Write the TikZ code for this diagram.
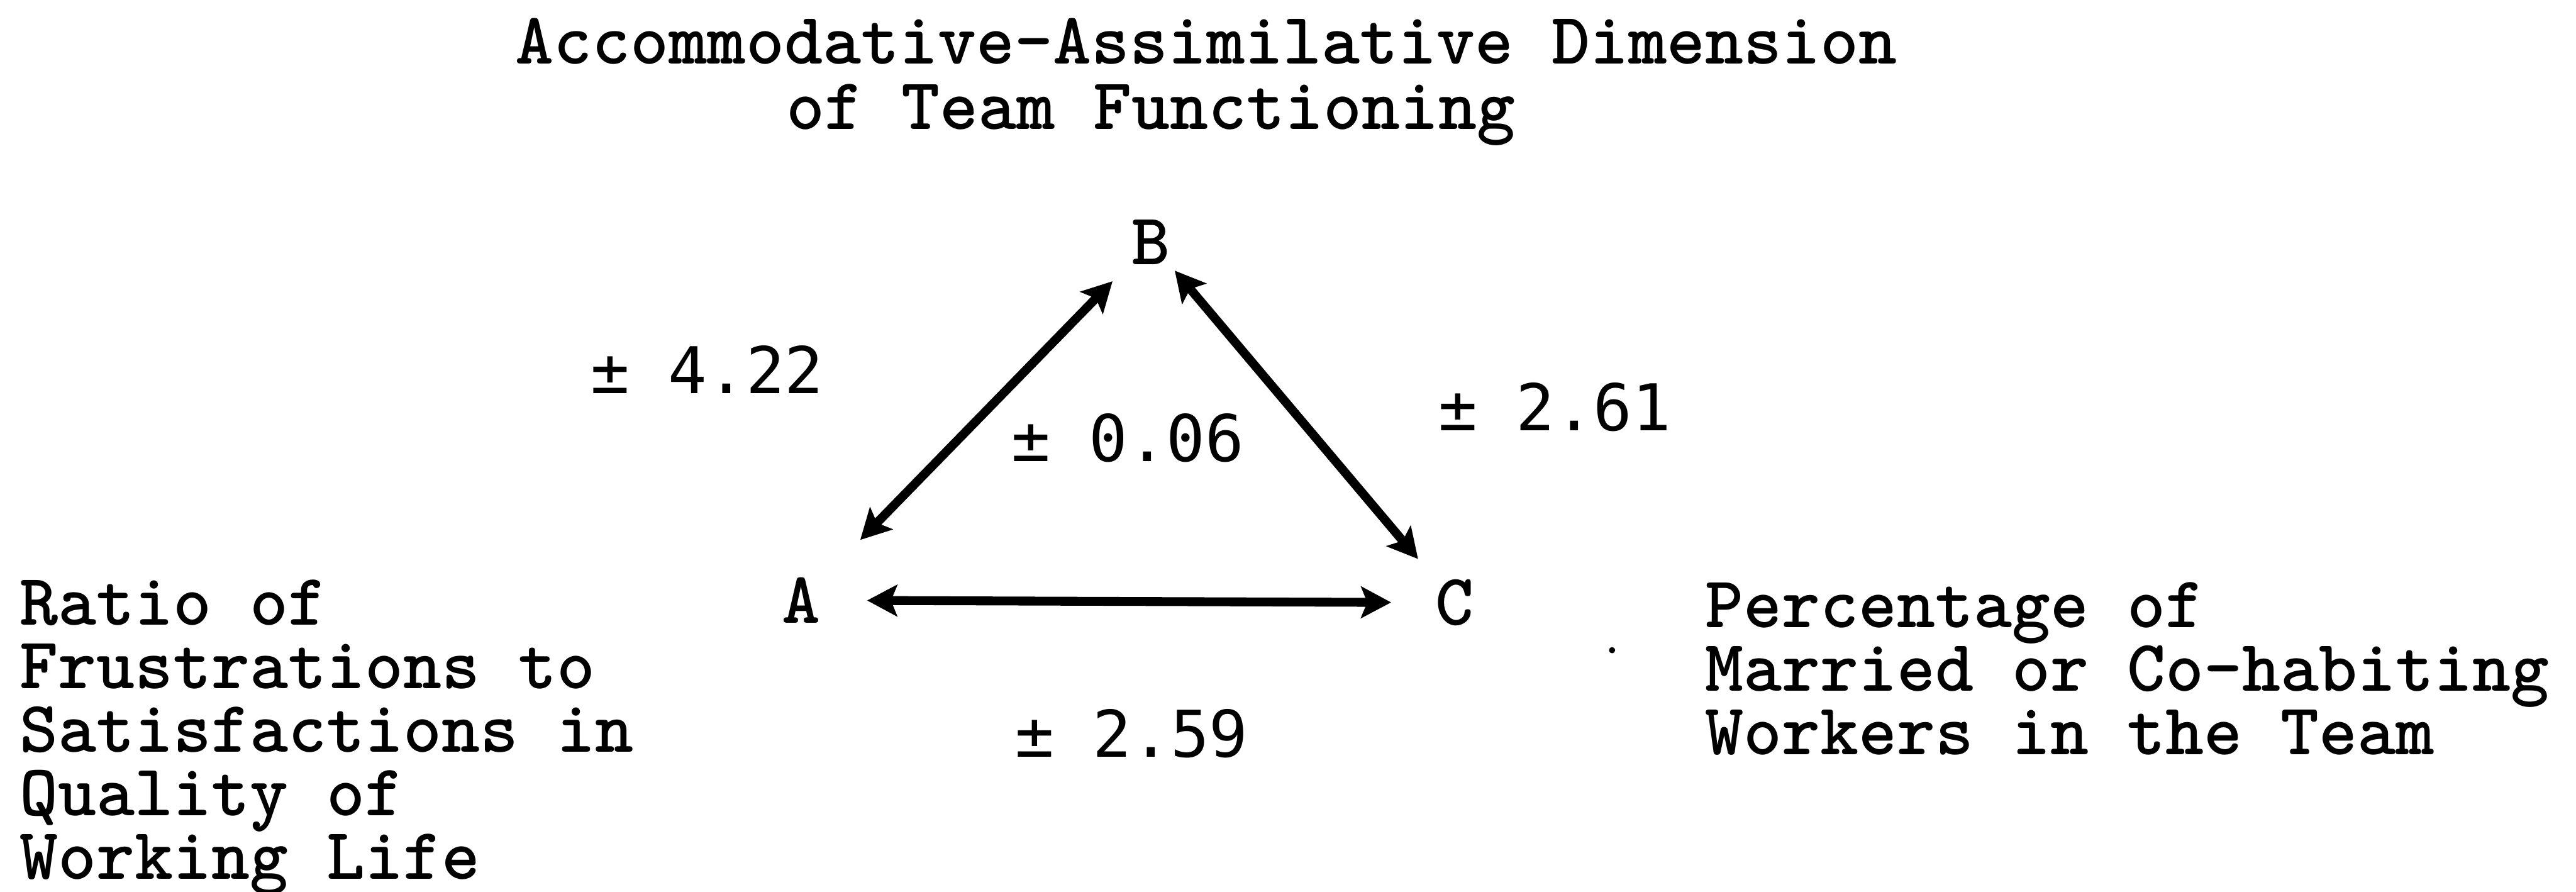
\documentclass[tikz,border=0pt]{standalone}
\usepackage{fontspec}
\newfontfamily\numfont{DejaVu Sans Mono}
\usetikzlibrary{arrows.meta}

\begin{document}
\begin{tikzpicture}[>={Stealth[length=4.4pt,width=4.6pt,inset=0.9pt]},
    txt/.style={inner sep=0pt,font=\ttfamily\bfseries\fontsize{10.72}{9.32}\selectfont},
    num/.style={inner sep=0pt,anchor=base west,font=\numfont\fontsize{9.45}{11}\selectfont},
    link/.style={<->,line width=1.3pt}]
    \useasboundingbox (0,0) rectangle (13.275,4.5925);
    % heading
    \node[txt,anchor=base west] (title) at (2.65,4.2625) {Accommodative-Assimilative Dimension};
    \node[txt,anchor=base west] (title2) at (4.045,3.925) {of Team Functioning};
    % corners of the triangle
    \node[txt] (A) at (4.13,1.5) {A};
    \node[txt] (B) at (5.93,3.345) {B};
    \node[txt] (C) at (7.4975,1.4875) {C};
    % two-way arrows
    \draw[link,shorten <=0.2825cm,shorten >=0.13cm] (A) -- (B);
    \draw[link,shorten <=0.0325cm,shorten >=0.13cm] (B) -- (C);
    \draw[link,shorten <=0.2325cm,shorten >=0.2225cm] (A) -- (C);
    % values
    \node[num] (ab) at (3.0375,2.565) {± 4.22};
    \node[num] (mid) at (5.205,2.215) {± 0.06};
    \node[num] (bc) at (7.405,2.375) {± 2.61};
    \node[num] (ac) at (5.225,0.6925) {± 2.59};
    % side texts
    \node[txt,anchor=north west,align=left] (ratio) at (0.095,1.6125)
      {Ratio of\\Frustrations to\\Satisfactions in\\Quality of\\Working Life};
    \node[txt,anchor=north west,align=left] (pct) at (8.78,1.6)
      {Percentage of\\Married or Co-habiting\\Workers in the Team};
    % speck
    \fill (8.3075,1.2425) circle (0.016);
\end{tikzpicture}
\end{document}
